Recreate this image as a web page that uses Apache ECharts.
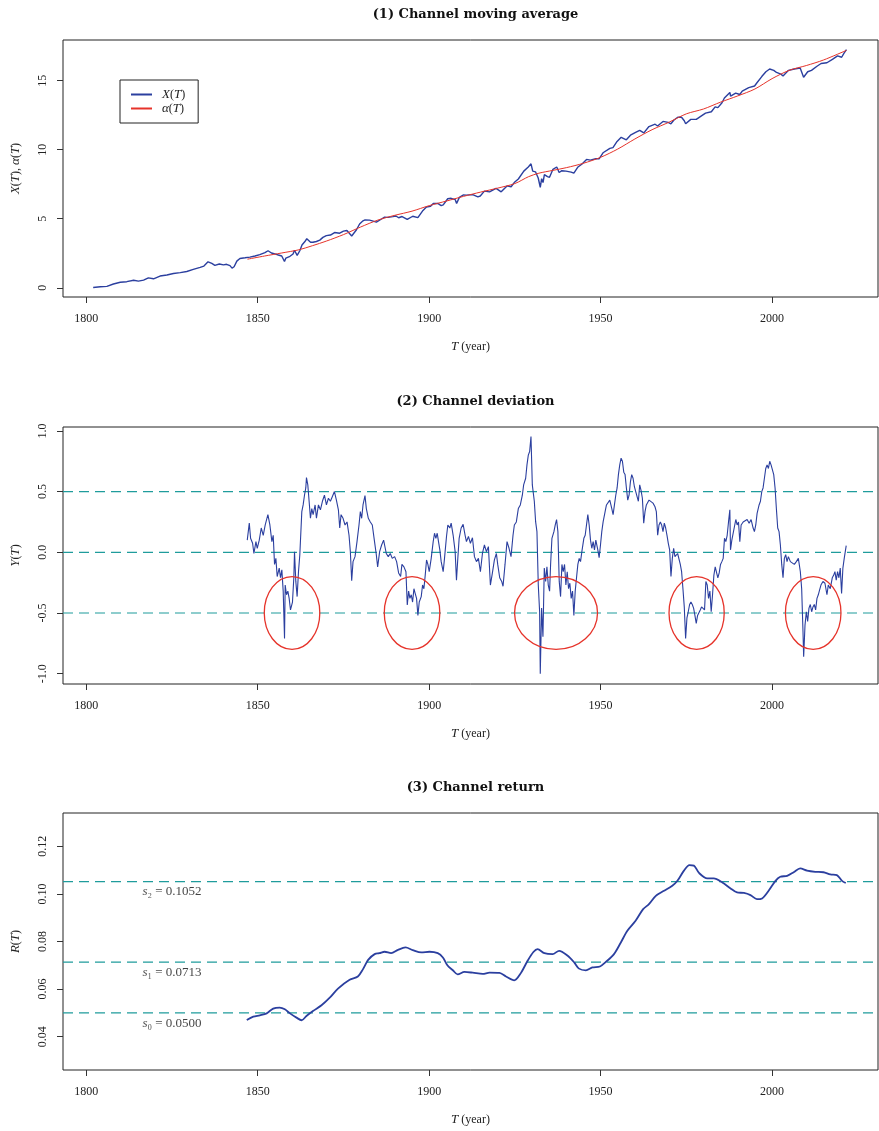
<!DOCTYPE html>
<html><head><meta charset="utf-8">
<script src="https://cdn.jsdelivr.net/npm/echarts@6/dist/echarts.min.js"></script>
<style>html,body{margin:0;padding:0;background:#fff}#c{width:879px;height:1131px}</style>
</head><body><div id="c"></div><script>
// ---------- data ----------
const panelTitles = ['(1) Channel moving average', '(2) Channel deviation', '(3) Channel return'];
const xTicks = [1800, 1850, 1900, 1950, 2000];
const yTicks1 = [0, 5, 10, 15];
const yTicks2 = [-1, -0.5, 0, 0.5, 1];
const yTicks3 = [0.04, 0.06, 0.08, 0.10, 0.12];

// X(T)
const logPrice = [[1802.0,0.02],[1804.1,0.07],[1806.0,0.10],[1807.9,0.27],[1809.9,0.40],[1811.8,0.44],[1813.8,0.54],[1815.2,0.48],[1816.7,0.55],[1818.1,0.72],[1819.6,0.65],[1821.5,0.85],[1823.5,0.92],[1825.4,1.03],[1827.4,1.10],[1829.3,1.18],[1831.2,1.33],[1833.2,1.48],[1834.3,1.57],[1835.5,1.88],[1836.6,1.76],[1837.5,1.62],[1838.8,1.72],[1840.0,1.66],[1840.9,1.70],[1841.9,1.60],[1842.5,1.42],[1843.1,1.52],[1843.9,1.93],[1844.8,2.12],[1846.3,2.17],[1847.7,2.22],[1849.2,2.30],[1850.6,2.40],[1852.1,2.55],[1853.0,2.68],[1854.0,2.52],[1855.0,2.45],[1856.0,2.37],[1857.0,2.30],[1857.8,1.90],[1858.2,2.15],[1859.4,2.28],[1860.3,2.45],[1860.7,2.72],[1861.5,2.35],[1862.3,2.70],[1862.9,3.10],[1863.7,3.33],[1864.3,3.55],[1865.4,3.30],[1866.1,3.30],[1867.1,3.35],[1868.1,3.45],[1869.0,3.65],[1870.0,3.78],[1871.2,3.82],[1872.4,4.00],[1873.9,3.95],[1875.0,4.10],[1876.0,4.15],[1877.4,3.75],[1878.8,4.20],[1879.7,4.62],[1880.7,4.85],[1881.3,4.92],[1882.6,4.90],[1883.4,4.85],[1884.6,4.75],[1886.1,4.98],[1887.0,5.12],[1888.0,5.10],[1889.4,5.15],[1890.3,5.20],[1891.1,5.07],[1892.1,5.16],[1893.6,4.95],[1895.2,5.18],[1896.7,5.08],[1898.2,5.60],[1899.2,5.85],[1900.4,5.90],[1901.2,6.10],[1902.5,6.11],[1903.5,5.95],[1904.1,6.00],[1905.4,6.45],[1906.4,6.48],[1907.6,6.38],[1908.0,6.10],[1908.8,6.55],[1909.9,6.72],[1910.8,6.71],[1912.7,6.75],[1914.2,6.59],[1914.9,6.65],[1916.1,7.00],[1917.6,6.95],[1917.9,6.85],[1919.5,7.20],[1921.0,6.95],[1921.5,6.98],[1922.7,7.38],[1923.9,7.32],[1924.8,7.62],[1926.0,7.88],[1927.6,8.45],[1928.9,8.75],[1929.7,8.98],[1930.2,8.45],[1931.0,8.40],[1931.8,7.95],[1932.4,7.28],[1932.8,7.90],[1933.2,7.62],[1933.6,8.20],[1934.5,8.05],[1935.1,8.00],[1936.1,8.58],[1937.2,8.75],[1937.9,8.35],[1938.7,8.48],[1939.9,8.45],[1941.4,8.38],[1942.2,8.30],[1943.4,8.75],[1944.5,8.95],[1945.9,9.30],[1947.0,9.25],[1948.6,9.35],[1949.6,9.35],[1950.7,9.78],[1952.7,10.10],[1953.6,10.15],[1954.8,10.60],[1956.0,10.90],[1957.5,10.72],[1958.7,11.05],[1960.2,11.25],[1961.4,11.40],[1962.6,11.22],[1964.1,11.68],[1965.9,11.85],[1966.6,11.72],[1968.2,12.05],[1969.7,11.98],[1970.5,11.88],[1971.4,12.15],[1972.5,12.35],[1973.6,12.35],[1974.4,12.10],[1974.8,11.88],[1976.3,12.20],[1977.9,12.20],[1979.4,12.45],[1980.6,12.65],[1982.3,12.75],[1983.4,13.10],[1984.2,13.05],[1985.4,13.40],[1986.1,13.75],[1987.7,14.15],[1987.9,13.88],[1989.4,14.10],[1990.6,14.00],[1991.3,14.25],[1993.2,14.50],[1994.9,14.62],[1995.6,14.85],[1997.0,15.30],[1998.2,15.65],[1999.3,15.85],[2000.5,15.75],[2001.3,15.60],[2002.4,15.50],[2003.2,15.35],[2004.8,15.75],[2006.5,15.85],[2008.2,15.92],[2009.2,15.25],[2010.4,15.65],[2011.5,15.75],[2013.1,16.05],[2014.3,16.25],[2016.0,16.30],[2017.6,16.55],[2019.1,16.80],[2020.3,16.70],[2021.0,17.00],[2021.7,17.25]];

// alpha(T)
const movingAvg = [[1847,2.07],[1852,2.30],[1857,2.52],[1862,2.75],[1866,3.05],[1870,3.38],[1875,3.85],[1880,4.40],[1885,4.90],[1890,5.25],[1895,5.55],[1900,5.95],[1905,6.28],[1910,6.62],[1915,6.93],[1920,7.22],[1925,7.55],[1929,8.05],[1932,8.30],[1936,8.50],[1940,8.70],[1945,9.02],[1950,9.45],[1955,10.05],[1960,10.78],[1965,11.45],[1970,12.00],[1975,12.60],[1980,12.95],[1985,13.45],[1990,13.90],[1995,14.40],[2000,15.15],[2005,15.75],[2010,16.10],[2015,16.50],[2021.7,17.20]];

// Y(T)
const deviation = [[1846.94,0.10],[1847.53,0.24],[1847.91,0.115],[1848.50,0.074],[1848.88,-0.01],[1849.47,0.088],[1849.85,0.033],[1850.44,0.10],[1851.02,0.20],[1851.60,0.14],[1852.18,0.225],[1852.96,0.31],[1853.54,0.225],[1854.12,0.088],[1854.51,0.14],[1854.90,-0.10],[1855.29,-0.05],[1855.67,-0.20],[1856.26,-0.13],[1856.64,-0.21],[1857.03,-0.145],[1857.42,-0.32],[1857.81,-0.71],[1858.00,-0.27],[1858.39,-0.35],[1858.78,-0.32],[1859.16,-0.38],[1859.55,-0.475],[1860.13,-0.41],[1860.52,-0.21],[1860.72,0.005],[1861.10,-0.24],[1861.49,-0.365],[1861.88,-0.16],[1862.27,-0.02],[1862.85,0.335],[1863.24,0.39],[1863.63,0.47],[1864.01,0.53],[1864.21,0.615],[1864.60,0.555],[1864.98,0.42],[1865.37,0.28],[1865.76,0.36],[1866.15,0.31],[1866.73,0.39],[1867.12,0.28],[1867.70,0.39],[1868.28,0.35],[1868.86,0.42],[1869.45,0.47],[1870.03,0.39],[1870.61,0.445],[1871.19,0.42],[1871.77,0.46],[1872.36,0.50],[1872.94,0.43],[1873.52,0.35],[1873.91,0.20],[1874.30,0.31],[1874.88,0.28],[1875.46,0.225],[1876.04,0.25],[1876.62,0.14],[1877.01,0.005],[1877.40,-0.235],[1877.79,-0.077],[1878.37,-0.036],[1878.95,0.088],[1879.53,0.225],[1879.92,0.335],[1880.31,0.28],[1880.70,0.39],[1881.28,0.467],[1881.67,0.36],[1882.25,0.28],[1882.83,0.25],[1883.41,0.225],[1884.00,0.10],[1884.58,-0.02],[1884.97,-0.12],[1885.55,0.005],[1886.13,0.06],[1886.71,0.10],[1887.10,0.115],[1887.49,-0.01],[1888.07,-0.036],[1888.65,-0.01],[1889.23,-0.05],[1889.92,-0.036],[1890.50,-0.077],[1891.08,-0.17],[1891.67,-0.20],[1892.05,-0.10],[1892.64,-0.12],[1893.22,-0.16],[1893.61,-0.434],[1894.00,-0.32],[1894.38,-0.38],[1894.77,-0.35],[1895.16,-0.41],[1895.55,-0.30],[1895.93,-0.34],[1896.32,-0.38],[1896.71,-0.52],[1897.10,-0.41],[1897.68,-0.365],[1898.07,-0.27],[1898.46,-0.30],[1898.84,-0.19],[1899.23,-0.063],[1899.62,-0.10],[1900.01,-0.16],[1900.59,-0.05],[1901.17,0.088],[1901.56,0.157],[1901.95,0.115],[1902.34,0.157],[1902.72,0.088],[1903.11,0.02],[1903.50,-0.077],[1904.08,-0.16],[1904.47,-0.05],[1905.05,0.13],[1905.44,0.225],[1906.02,0.20],[1906.41,0.24],[1906.99,0.14],[1907.57,0.005],[1907.96,-0.23],[1908.35,-0.05],[1908.74,0.115],[1909.32,0.20],[1909.90,0.23],[1910.48,0.14],[1910.87,0.088],[1911.45,0.13],[1912.03,0.074],[1912.62,0.12],[1913.20,-0.036],[1913.78,-0.077],[1914.36,-0.05],[1914.94,-0.16],[1915.53,-0.01],[1916.11,0.06],[1916.69,0.005],[1917.27,0.047],[1917.85,-0.27],[1918.44,-0.17],[1919.02,-0.063],[1919.60,-0.01],[1919.99,-0.10],[1920.57,-0.21],[1921.15,-0.24],[1921.54,-0.28],[1922.12,-0.10],[1922.70,0.088],[1923.29,0.033],[1923.87,-0.036],[1924.45,0.14],[1924.84,0.225],[1925.42,0.25],[1926.00,0.36],[1926.58,0.39],[1927.17,0.47],[1927.55,0.555],[1928.14,0.61],[1928.52,0.72],[1928.91,0.80],[1929.30,0.83],[1929.69,0.953],[1930.08,0.555],[1930.66,0.42],[1931.05,0.25],[1931.43,0.17],[1931.82,-0.27],[1932.21,-0.49],[1932.40,-1.0],[1932.79,-0.46],[1933.18,-0.695],[1933.57,-0.13],[1933.96,-0.24],[1934.34,-0.12],[1934.73,-0.27],[1935.12,-0.32],[1935.41,-0.10],[1935.80,0.115],[1936.38,0.17],[1936.77,0.225],[1937.15,0.27],[1937.54,0.17],[1937.93,-0.24],[1938.32,-0.365],[1938.71,-0.10],[1939.09,-0.16],[1939.48,-0.10],[1939.87,-0.27],[1940.26,-0.16],[1940.65,-0.30],[1941.03,-0.255],[1941.42,-0.38],[1941.81,-0.32],[1942.20,-0.52],[1942.59,-0.32],[1942.97,-0.21],[1943.36,-0.10],[1943.75,-0.05],[1944.14,-0.077],[1944.53,0.005],[1945.11,0.115],[1945.50,0.14],[1945.88,0.225],[1946.27,0.31],[1946.66,0.225],[1947.05,0.10],[1947.43,0.033],[1947.82,0.088],[1948.21,0.02],[1948.60,0.10],[1949.18,0.02],[1949.57,-0.044],[1949.96,0.06],[1950.34,0.17],[1950.73,0.25],[1951.31,0.335],[1951.70,0.39],[1952.09,0.375],[1952.67,0.43],[1953.26,0.36],[1953.64,0.31],[1954.03,0.39],[1954.42,0.47],[1954.81,0.53],[1955.19,0.64],[1955.58,0.72],[1955.97,0.775],[1956.36,0.75],[1956.75,0.66],[1957.13,0.64],[1957.52,0.53],[1957.91,0.43],[1958.30,0.47],[1958.69,0.58],[1959.07,0.64],[1959.46,0.61],[1959.85,0.54],[1960.24,0.50],[1960.63,0.51],[1961.01,0.42],[1961.40,0.555],[1961.79,0.51],[1962.18,0.445],[1962.57,0.24],[1962.95,0.335],[1963.34,0.39],[1963.73,0.375],[1964.12,0.43],[1964.70,0.42],[1965.28,0.405],[1965.86,0.375],[1966.25,0.335],[1966.64,0.14],[1967.03,0.225],[1967.42,0.25],[1967.80,0.225],[1968.19,0.17],[1968.58,0.24],[1968.97,0.20],[1969.36,0.14],[1969.74,0.074],[1970.13,0.02],[1970.52,-0.20],[1970.91,-0.05],[1971.30,0.033],[1971.68,-0.036],[1972.07,-0.05],[1972.46,-0.01],[1972.85,-0.01],[1973.24,-0.10],[1973.62,-0.16],[1974.01,-0.30],[1974.40,-0.45],[1974.79,-0.71],[1975.18,-0.54],[1975.56,-0.49],[1975.95,-0.43],[1976.34,-0.41],[1976.73,-0.43],[1977.12,-0.46],[1977.50,-0.52],[1977.89,-0.585],[1978.28,-0.52],[1978.67,-0.53],[1979.06,-0.475],[1979.44,-0.45],[1979.83,-0.45],[1980.31,-0.475],[1980.70,-0.24],[1981.09,-0.27],[1981.48,-0.38],[1981.87,-0.32],[1982.25,-0.49],[1982.64,-0.35],[1983.03,-0.19],[1983.42,-0.12],[1983.81,-0.13],[1984.19,-0.21],[1984.58,-0.17],[1984.97,-0.10],[1985.36,-0.077],[1985.75,-0.05],[1986.13,0.115],[1986.52,0.088],[1986.91,0.14],[1987.30,0.25],[1987.69,0.35],[1987.88,0.02],[1988.27,0.10],[1988.85,0.088],[1989.43,0.27],[1989.82,0.225],[1990.21,0.25],[1990.60,0.088],[1990.98,0.225],[1991.57,0.25],[1992.15,0.24],[1992.73,0.27],[1993.31,0.24],[1993.89,0.27],[1994.48,0.20],[1994.86,0.17],[1995.25,0.225],[1995.64,0.32],[1996.22,0.39],[1996.61,0.42],[1997.00,0.50],[1997.38,0.53],[1997.77,0.61],[1998.16,0.69],[1998.55,0.72],[1998.94,0.69],[1999.32,0.75],[1999.71,0.72],[2000.10,0.705],[2000.49,0.64],[2000.88,0.53],[2001.26,0.36],[2001.65,0.20],[2002.04,0.17],[2002.43,0.06],[2002.82,-0.10],[2003.20,-0.21],[2003.59,-0.05],[2003.98,-0.02],[2004.37,-0.077],[2004.76,-0.036],[2005.34,-0.077],[2005.92,-0.063],[2006.50,-0.10],[2007.08,-0.077],[2007.67,-0.05],[2008.25,-0.16],[2008.64,-0.30],[2009.02,-0.65],[2009.22,-0.86],[2009.61,-0.60],[2010.00,-0.49],[2010.38,-0.57],[2010.77,-0.46],[2011.16,-0.43],[2011.55,-0.49],[2011.94,-0.45],[2012.32,-0.43],[2012.71,-0.475],[2013.10,-0.38],[2013.49,-0.35],[2013.87,-0.31],[2014.26,-0.27],[2014.84,-0.24],[2015.43,-0.255],[2016.01,-0.35],[2016.40,-0.27],[2016.98,-0.30],[2017.56,-0.21],[2017.95,-0.19],[2018.34,-0.16],[2018.72,-0.23],[2019.11,-0.16],[2019.50,-0.21],[2019.89,-0.13],[2020.28,-0.34],[2020.66,-0.13],[2021.05,-0.05],[2021.63,0.055]];

// R(T)
const channelReturn = [[1846.8,0.0470],[1848.7,0.0484],[1850.6,0.0490],[1852.6,0.0498],[1854.5,0.0518],[1856.4,0.0522],[1857.9,0.0515],[1859.4,0.0498],[1861.3,0.0480],[1862.8,0.0469],[1864.2,0.0487],[1866.1,0.0508],[1868.6,0.0532],[1871.0,0.0564],[1873.4,0.0602],[1876.8,0.0639],[1879.2,0.0653],[1880.7,0.0684],[1882.2,0.0723],[1884.1,0.0747],[1885.5,0.0751],[1887.0,0.0757],[1888.9,0.0751],[1890.9,0.0765],[1893.1,0.0775],[1895.2,0.0764],[1897.7,0.0754],[1900.1,0.0757],[1902.5,0.0751],[1904.0,0.0733],[1905.3,0.0700],[1906.9,0.0679],[1908.3,0.0662],[1910.3,0.0672],[1912.7,0.0669],[1915.6,0.0664],[1917.6,0.0669],[1920.5,0.0668],[1922.4,0.0653],[1924.8,0.0637],[1926.8,0.0669],[1928.7,0.0719],[1930.4,0.0756],[1931.6,0.0768],[1933.6,0.0751],[1936.0,0.0747],[1937.9,0.0761],[1940.4,0.0740],[1942.3,0.0712],[1943.7,0.0686],[1945.7,0.0679],[1947.6,0.0691],[1949.8,0.0695],[1951.5,0.0714],[1953.9,0.0747],[1955.9,0.0796],[1957.8,0.0845],[1960.2,0.0887],[1962.4,0.0936],[1964.1,0.0957],[1966.1,0.0992],[1968.5,0.1013],[1970.9,0.1034],[1972.4,0.1055],[1974.3,0.1098],[1975.9,0.1121],[1977.2,0.1119],[1978.7,0.1088],[1981.1,0.1065],[1983.0,0.1065],[1985.5,0.1048],[1987.9,0.1023],[1989.8,0.1006],[1991.8,0.1004],[1993.7,0.0995],[1995.6,0.0978],[1997.1,0.0981],[1999.0,0.1013],[2001.0,0.1055],[2002.4,0.1072],[2004.4,0.1076],[2006.3,0.1091],[2008.2,0.1107],[2010.2,0.1098],[2012.6,0.1093],[2015.0,0.1091],[2017.0,0.1082],[2018.9,0.1079],[2020.4,0.1055],[2021.5,0.1046]];

const devLevels = [0.5, 0, -0.5];
const returnLevels = [0.0500, 0.0713, 0.1052];
const returnLabels = ['{i|s}₀ = 0.0500', '{i|s}₁ = 0.0713', '{i|s}₂ = 0.1052'];
// highlighted episodes: [centre year, centre level, half width (years), half height]
const episodes = [[1860, -0.5, 8.1, 0.3], [1895, -0.5, 8.1, 0.3], [1937, -0.5, 12.1, 0.3], [1978, -0.5, 8.05, 0.3], [2012, -0.5, 8.1, 0.3]];

// ---------- styling / layout ----------
const SERIF = 'Liberation Serif';
const BLUE = '#2b3f9f', RED = '#e6332a', TEAL = '#1f9c9c';
const X_MIN = 1793.2, X_MAX = 2030.9;
const gridTops = [40, 427, 813];
const yRanges = [[-0.67, 17.95], [-1.085, 1.032], [0.026, 0.134]];
const yTickSets = [yTicks1, yTicks2, yTicks3];
const yFmt = [v => String(v), v => v.toFixed(1), v => v.toFixed(2)];
const yNames = ['{i|X}({i|T}), {i|α}({i|T})', '{i|Y}({i|T})', '{i|R}({i|T})'];
const rich = { i: { fontStyle: 'italic', fontFamily: SERIF, fontSize: 13, color: '#222' } };
const LABEL_YEAR = 1825;

const chart = echarts.init(document.getElementById('c'), null, { renderer: 'canvas' });

const grids = gridTops.map(t => ({ left: 63, top: t, width: 815, height: 257, show: true, borderColor: '#222', borderWidth: 1, containLabel: false }));

const xAxes = gridTops.map((t, i) => ({
  type: 'value', gridIndex: i, min: X_MIN, max: X_MAX, position: 'bottom',
  axisLine: { show: false, onZero: false }, splitLine: { show: false },
  axisTick: { show: true, customValues: xTicks, length: 6, inside: false, lineStyle: { color: '#333', width: 1 } },
  axisLabel: { show: true, customValues: xTicks, margin: 16, fontFamily: SERIF, fontSize: 12, color: '#222', formatter: v => String(v) },
  name: '{i|T} (year)', nameLocation: 'middle', nameGap: 43,
  nameTextStyle: { fontFamily: SERIF, fontSize: 12, color: '#222', rich }
}));

const yAxes = gridTops.map((t, i) => ({
  type: 'value', gridIndex: i, min: yRanges[i][0], max: yRanges[i][1], position: 'left',
  axisLine: { show: false, onZero: false }, splitLine: { show: false },
  axisTick: { show: true, customValues: yTickSets[i], length: 6, inside: false, lineStyle: { color: '#333', width: 1 } },
  axisLabel: { show: true, customValues: yTickSets[i], rotate: 90, margin: 14, fontFamily: SERIF, fontSize: 12, color: '#222', formatter: yFmt[i] },
  name: yNames[i], nameLocation: 'middle', nameRotate: 90, nameGap: 41,
  nameTextStyle: { fontFamily: SERIF, fontSize: 12, color: '#222', rich }
}));

function levelLine(v, gi) {
  return { type: 'line', xAxisIndex: gi, yAxisIndex: gi, silent: true, showSymbol: false, symbol: 'none', z: 2,
    data: [[X_MIN, v], [X_MAX, v]],
    lineStyle: { color: TEAL, width: 1.2, type: [10, 6] }, itemStyle: { color: TEAL } };
}

const option = {
  animation: false,
  backgroundColor: '#fff',
  title: panelTitles.map((txt, i) => ({
    text: txt, left: 470.5, top: gridTops[i] - 37, textAlign: 'center',
    textStyle: { fontFamily: 'DejaVu Serif', fontWeight: 'bold', fontSize: 13, color: '#111' }
  })),
  legend: {
    data: ['X(T)', 'α(T)'], orient: 'vertical', left: 120, top: 80,
    borderColor: '#222', borderWidth: 1, borderRadius: 0, padding: [8, 13, 8, 11],
    itemWidth: 21, itemHeight: 2, itemGap: 1, icon: 'rect', backgroundColor: '#fff',
    formatter: n => n === 'X(T)' ? '{i|X}({i|T})' : '{i|α}({i|T})',
    textStyle: { fontFamily: SERIF, fontSize: 12, color: '#222', padding: [0, 0, 0, 5], rich }
  },
  grid: grids,
  xAxis: xAxes,
  yAxis: yAxes,
  series: [
    { name: 'X(T)', type: 'line', xAxisIndex: 0, yAxisIndex: 0, data: logPrice, showSymbol: false, symbol: 'none',
      lineStyle: { color: BLUE, width: 1.4 }, itemStyle: { color: BLUE }, z: 3 },
    { name: 'α(T)', type: 'line', xAxisIndex: 0, yAxisIndex: 0, data: movingAvg, showSymbol: false, symbol: 'none', smooth: 0.3,
      lineStyle: { color: RED, width: 1 }, itemStyle: { color: RED }, z: 4 },
    ...devLevels.map(v => levelLine(v, 1)),
    { name: 'Y(T)', type: 'line', xAxisIndex: 1, yAxisIndex: 1, data: deviation, showSymbol: false, symbol: 'none',
      lineStyle: { color: BLUE, width: 1.1 }, z: 3 },
    { name: 'episodes', type: 'custom', xAxisIndex: 1, yAxisIndex: 1, data: episodes, z: 5, silent: true,
      renderItem: (params, api) => {
        const c = api.coord([api.value(0), api.value(1)]);
        const s = api.size([api.value(2), api.value(3)]);
        return { type: 'ellipse', shape: { cx: c[0], cy: c[1], rx: s[0], ry: s[1] },
          style: { fill: 'none', stroke: RED, lineWidth: 1.3 } };
      } },
    ...returnLevels.map(v => levelLine(v, 2)),
    { name: 'R(T)', type: 'line', xAxisIndex: 2, yAxisIndex: 2, data: channelReturn, showSymbol: false, symbol: 'none', smooth: 0.3,
      lineStyle: { color: BLUE, width: 1.8 }, z: 3 },
    { name: 'levels', type: 'scatter', xAxisIndex: 2, yAxisIndex: 2, symbolSize: 0, silent: true,
      data: returnLevels.map(v => [LABEL_YEAR, v]),
      label: { show: true, position: 'bottom', distance: 4,
        formatter: p => returnLabels[p.dataIndex],
        fontFamily: SERIF, fontSize: 13, color: '#111', rich } }
  ]
};
chart.setOption(option);
</script></body></html>
